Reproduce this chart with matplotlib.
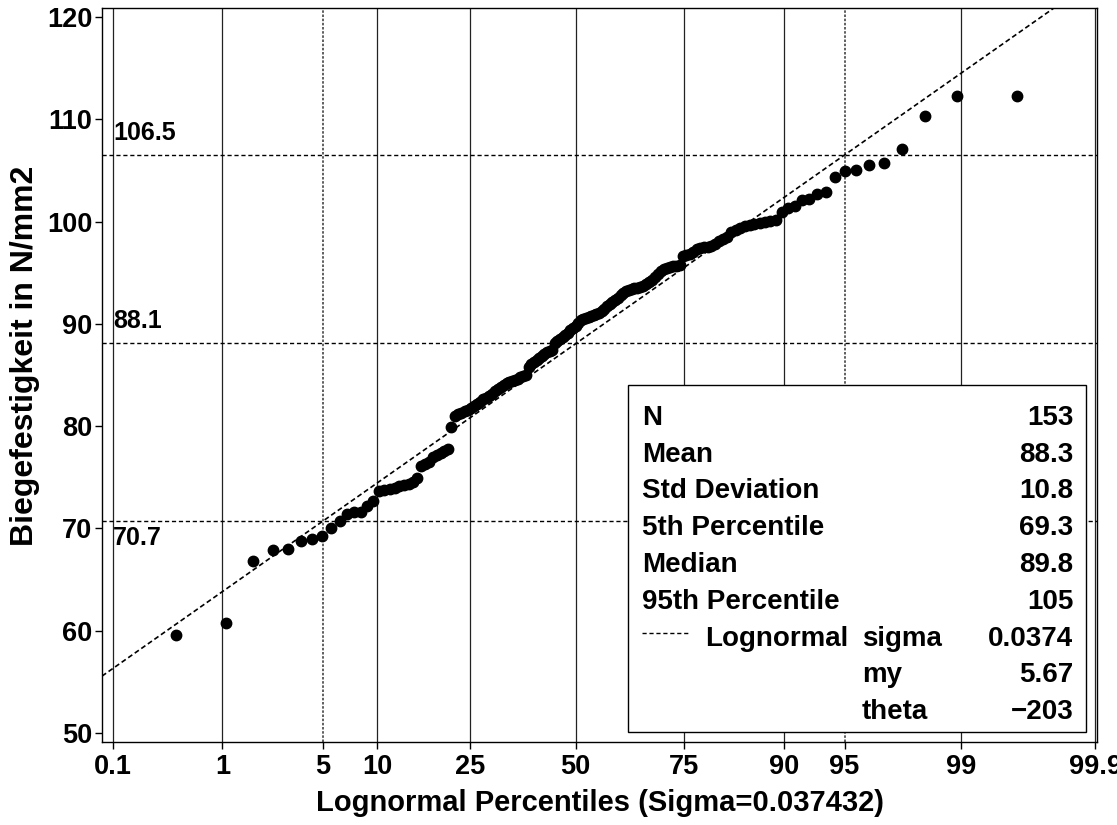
import numpy as np
import matplotlib
matplotlib.use("Agg")
import matplotlib.pyplot as plt
from matplotlib.patches import Rectangle
from matplotlib.lines import Line2D
from statistics import NormalDist

plt.rcParams['font.family'] = ['Liberation Sans', 'DejaVu Sans']
plt.rcParams['font.weight'] = 'bold'
plt.rcParams['axes.labelweight'] = 'bold'

# Bending strength measurements (N/mm2), sorted
strength = [
    59.6, 60.8, 66.8, 67.9, 68.0, 68.8, 69.0, 69.3, 70.0, 70.7,
    71.4, 71.6, 71.6, 72.2, 72.7, 73.7, 73.8, 73.9, 74.0, 74.1,
    74.2, 74.3, 74.5, 74.9, 76.1, 76.3, 76.5, 77.0, 77.2, 77.4,
    77.6, 77.8, 79.9, 81.0, 81.2, 81.3, 81.5, 81.6, 81.8, 82.0,
    82.2, 82.4, 82.7, 82.8, 82.9, 83.1, 83.4, 83.6, 83.8, 84.0,
    84.2, 84.3, 84.4, 84.5, 84.6, 84.8, 84.9, 85.0, 85.8, 86.1,
    86.3, 86.5, 86.7, 86.9, 87.1, 87.2, 87.3, 87.4, 88.1, 88.3,
    88.5, 88.7, 88.9, 89.1, 89.4, 89.6, 89.8, 90.1, 90.4, 90.5,
    90.6, 90.7, 90.8, 90.9, 91.0, 91.1, 91.3, 91.5, 91.7, 91.9,
    92.1, 92.3, 92.5, 92.8, 93.0, 93.2, 93.3, 93.4, 93.5, 93.5,
    93.6, 93.7, 93.9, 94.1, 94.3, 94.6, 94.9, 95.2, 95.4, 95.5,
    95.6, 95.7, 95.7, 95.8, 96.6, 96.7, 96.8, 97.0, 97.3, 97.4,
    97.5, 97.5, 97.6, 97.8, 98.1, 98.3, 98.5, 99.0, 99.2, 99.4,
    99.6, 99.7, 99.8, 99.9, 100.0, 100.1, 100.2, 100.9, 101.3, 101.5,
    102.1, 102.2, 102.7, 102.9, 104.4, 104.9, 105.0, 105.5, 105.7, 107.1,
    110.3, 112.3, 112.3,
]

pct_ticks = [0.1, 1, 5, 10, 25, 50, 75, 90, 95, 99, 99.9]
pct_labels = ['0.1', '1', '5', '10', '25', '50', '75', '90', '95', '99', '99.9']
ref_pcts = [5, 95]
ref_levels = [106.5, 88.1, 70.7]
ref_offsets = [16, 16, -12]          # label offset from the line, points

# three-parameter lognormal fit
sigma = 0.037432
mu = np.log(290.6)
theta = -202.54

summary_names = ['Mean', 'Std Deviation', '5th Percentile', 'Median', '95th Percentile']
summary_values = ['88.3', '10.8', '69.3', '89.8', '105']


def lognorm_x(p):
    """Position on the lognormal percentile axis for probability p."""
    return np.exp(sigma * NormalDist().inv_cdf(p))


n = len(strength)
ranks = np.arange(1, n + 1)
plot_pos = (ranks - 0.375) / (n + 0.25)          # Blom plotting positions
xs = np.array([lognorm_x(p) for p in plot_pos])
ys = np.sort(strength)

tick_x = np.array([lognorm_x(p / 100) for p in pct_ticks])

W, H = 1117, 825
fig = plt.figure(figsize=(W / 100, H / 100), dpi=100)
ax = fig.add_axes([102 / W, 83 / H, 995 / W, 734 / H])

span = tick_x[-1] - tick_x[0]
ax.set_xlim(tick_x[0] - span * 11 / 982, tick_x[-1] + span * 2 / 982)
ax.set_ylim(49.12, 120.88)

# vertical grid at the percentile ticks
for p, xv in zip(pct_ticks, tick_x):
    if p in ref_pcts:
        ax.axvline(xv, color='#444444', lw=1.2, ls=(0, (1.5, 1)), zorder=1)
    else:
        ax.axvline(xv, color='#222222', lw=0.9, zorder=1)

# reference levels of the fitted distribution
for lvl, off in zip(ref_levels, ref_offsets):
    ax.axhline(lvl, color='black', lw=1.0, ls=(0, (3, 2)), zorder=1)
    ax.annotate(f'{lvl:.1f}', xy=(0.011, lvl), xycoords=('axes fraction', 'data'),
                xytext=(0, off), textcoords='offset points',
                ha='left', va='center', fontsize=18)

# fitted lognormal line
xl = np.linspace(*ax.get_xlim(), 200)
ax.plot(xl, theta + np.exp(mu) * xl, color='black', lw=1.2,
        ls=(0, (3, 1.8)), zorder=2)

# observations
ax.plot(xs, ys, 'o', color='black', ms=7.5, mec='black', zorder=4)

ax.set_xticks(tick_x)
ax.set_xticklabels(pct_labels)
ax.set_yticks(np.arange(50, 121, 10))
ax.tick_params(direction='out', length=5, width=1, labelsize=19.5)
ax.tick_params(axis='x', pad=4)
ax.tick_params(axis='y', pad=2)
for s in ax.spines.values():
    s.set_linewidth(1)

ax.set_xlabel('Lognormal Percentiles (Sigma=0.037432)', fontsize=21,
              fontweight='bold', va='center')
ax.xaxis.set_label_coords(0.5, -0.083)
ax.set_ylabel('Biegefestigkeit in N/mm2', fontsize=23,
              fontweight='bold', va='center')
ax.yaxis.set_label_coords(-0.0774, 0.526)

# statistics inset
box = Rectangle((0.5286, 0.01362), 0.4603, 0.4728, transform=ax.transAxes,
                facecolor='white', edgecolor='black', lw=1, zorder=3)
ax.add_patch(box)


def fpos(x, y):
    return x / W, 1 - y / H


rows = [('N', str(n))] + list(zip(summary_names, summary_values))
for k, (name, val) in enumerate(rows):
    yb = 425 + 36.75 * k
    fig.text(*fpos(641.7, yb), name, ha='left', va='baseline', fontsize=20, zorder=5)
    fig.text(*fpos(1073.3, yb), val, ha='right', va='baseline', fontsize=20, zorder=5)

fit_rows = [('sigma', f'{sigma:.4f}'), ('my', f'{mu:.2f}'),
            ('theta', f'{theta:.0f}'.replace('-', '\u2212'))]
for k, (name, val) in enumerate(fit_rows):
    yb = 425 + 36.75 * (6 + k)
    fig.text(*fpos(861.7, yb), name, ha='left', va='baseline', fontsize=20, zorder=5)
    fig.text(*fpos(1073.3, yb), val, ha='right', va='baseline', fontsize=20, zorder=5)

yb = 425 + 36.75 * 6
fig.text(*fpos(705, yb), 'Lognormal', ha='left', va='baseline', fontsize=20, zorder=5)
x0, y0 = fpos(641.7, 633)
x1, _ = fpos(688.3, 633)
fig.add_artist(Line2D([x0, x1], [y0, y0], transform=fig.transFigure,
                      color='black', lw=1, ls=(0, (3, 2))))

fig.savefig('out.png', dpi=100)
